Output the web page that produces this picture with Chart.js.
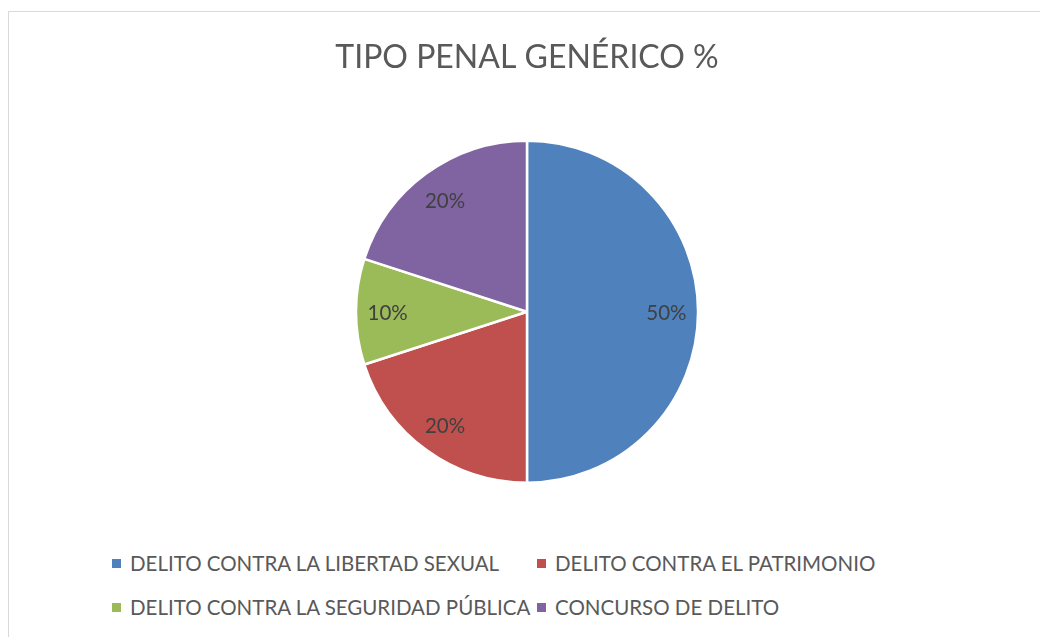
<!DOCTYPE html>
<html>
<head>
<meta charset="utf-8">
<script src="https://cdn.jsdelivr.net/npm/chart.js@4/dist/chart.umd.min.js"></script>
<style>
  html, body { margin: 0; padding: 0; background: #fff; }
  body { width: 1040px; height: 637px; position: relative; overflow: hidden; font-family: Lato, "Open Sans", sans-serif; }
  #frame { position: absolute; left: 8px; top: 11px; width: 1100px; height: 700px; border: 1px solid #d9d9d9; box-sizing: border-box; }
  #wrap { position: absolute; left: 0; top: 0; width: 1040px; height: 520px; }
  .leg { position: absolute; display: flex; align-items: center; font-size: 20.5px; color: #595959; white-space: nowrap; }
  .leg .box { width: 9px; height: 9px; margin-right: 9px; }
</style>
</head>
<body>
<div id="frame"></div>
<div id="wrap"><canvas id="c"></canvas></div>
<div id="legend"></div>
<script>
const titleText = "TIPO PENAL GENÉRICO %";
const categories = [
  "DELITO CONTRA LA LIBERTAD SEXUAL",
  "DELITO CONTRA EL PATRIMONIO",
  "DELITO CONTRA LA SEGURIDAD PÚBLICA",
  "CONCURSO DE DELITO"
];
const values = [50, 20, 10, 20];
const colors = ["#4F81BD", "#C0504D", "#9BBB59", "#8064A2"];

const labelPlugin = {
  id: "sliceLabels",
  afterDatasetsDraw(chart) {
    const ctx = chart.ctx;
    const meta = chart.getDatasetMeta(0);
    const total = values.reduce((a, b) => a + b, 0);
    ctx.save();
    ctx.font = "20.5px Lato, 'Open Sans', sans-serif";
    ctx.fillStyle = "#404040";
    ctx.textAlign = "center";
    ctx.textBaseline = "middle";
    meta.data.forEach((arc, i) => {
      const p = arc.getProps(["x", "y", "startAngle", "endAngle", "outerRadius"], true);
      const mid = (p.startAngle + p.endAngle) / 2;
      const r = p.outerRadius * 0.815;
      ctx.fillText(Math.round(values[i] / total * 100) + "%", p.x + Math.cos(mid) * r, p.y + Math.sin(mid) * r + 2);
    });
    ctx.restore();
  }
};

new Chart(document.getElementById("c"), {
  type: "pie",
  data: {
    labels: categories,
    datasets: [{
      data: values,
      backgroundColor: colors,
      borderColor: "#ffffff",
      borderWidth: 2.5
    }]
  },
  options: {
    responsive: true,
    maintainAspectRatio: false,
    animation: false,
    layout: { padding: { top: 0, bottom: 36, left: 14, right: 0 } },
    plugins: {
      legend: { display: false },
      tooltip: { enabled: false },
      title: {
        display: true,
        text: titleText,
        color: "#595959",
        font: { family: "Lato, 'Open Sans', sans-serif", size: 32, weight: "normal", lineHeight: 1.2 },
        padding: { top: 38, bottom: 63 }
      }
    }
  },
  plugins: [labelPlugin]
});

// legend in two aligned columns
const legendPos = [[112, 563], [537, 563], [112, 607], [537, 607]];
const legendEl = document.getElementById("legend");
categories.forEach((name, i) => {
  const d = document.createElement("div");
  d.className = "leg";
  d.style.left = legendPos[i][0] + "px";
  d.style.top = (legendPos[i][1] - 13) + "px";
  d.style.height = "26px";
  d.innerHTML = '<span class="box" style="background:' + colors[i] + '"></span><span></span>';
  d.lastChild.textContent = name;
  legendEl.appendChild(d);
});
</script>
</body>
</html>
